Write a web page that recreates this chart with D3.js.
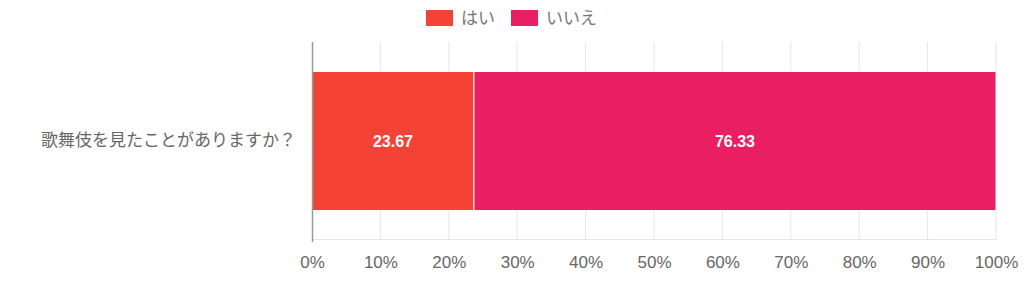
<html>
<head>
<meta charset="utf-8">
<style>
body
{
  margin:0;
  background:#fff;
}
</style>
<script src="https://cdnjs.cloudflare.com/ajax/libs/d3/7.8.5/d3.min.js"></script>
</head>
<body>
<script>
var categories = ["歌舞伎を見たことがありますか？"];
var seriesNames = ["はい", "いいえ"];
var seriesColors = ["#F44336", "#E91E63"];
var hai = [23.67];
var iie = [76.33];
var tickValues = [0, 10, 20, 30, 40, 50, 60, 70, 80, 90, 100];

var w = 1024, h = 286;
var font = "'Noto Sans CJK JP', 'Noto Sans', sans-serif";

var svg = d3.select("body")
  .append("svg")
  .attr("width", w)
  .attr("height", h);

var x = d3.scaleLinear().domain([0, 100]).range([312, 996]);
var y = d3.scaleBand().domain(categories).range([42, 240]).paddingInner(0).paddingOuter(0.212);

// grid
svg.append("g").selectAll("line")
  .data(tickValues.slice(1))
  .enter().append("line")
  .attr("x1", function(d){ return x(d); })
  .attr("x2", function(d){ return x(d); })
  .attr("y1", 42)
  .attr("y2", 240)
  .style("stroke", "#e6e6e6")
  .style("stroke-width", 1);

svg.append("line")
  .attr("x1", x(0)).attr("x2", x(100))
  .attr("y1", 239.5).attr("y2", 239.5)
  .style("stroke", "#e6e6e6");

// stacked bars
var stacked = categories.map(function(c, i){
  return [{s:0, x0:0, x1:hai[i], v:hai[i], c:c}, {s:1, x0:hai[i], x1:hai[i]+iie[i], v:iie[i], c:c}];
});
var segs = [].concat.apply([], stacked);

svg.append("g").selectAll("rect")
  .data(segs)
  .enter().append("rect")
  .attr("x", function(d){ return x(d.x0); })
  .attr("width", function(d){ return x(d.x1) - x(d.x0); })
  .attr("y", function(d){ return y(d.c); })
  .attr("height", y.bandwidth())
  .style("fill", function(d){ return seriesColors[d.s]; })
  .style("stroke", "#fff")
  .style("stroke-width", 1);

svg.append("g").selectAll("text")
  .data(segs)
  .enter().append("text")
  .attr("x", function(d){ return (x(d.x0) + x(d.x1)) / 2; })
  .attr("y", function(d){ return y(d.c) + y.bandwidth() / 2; })
  .attr("dy", "0.35em")
  .attr("text-anchor", "middle")
  .style("font-family", "Arial, 'Liberation Sans', sans-serif")
  .style("font-weight", "bold")
  .style("font-size", "16px")
  .style("fill", "#fff")
  .text(function(d){ return d.v.toFixed(2); });

// zero axis line
svg.append("line")
  .attr("x1", x(0) + 0.5).attr("x2", x(0) + 0.5)
  .attr("y1", 42).attr("y2", 242)
  .style("stroke", "#999")
  .style("stroke-width", 1.5);

// x axis labels
var xAxis = d3.axisBottom(x).tickValues(tickValues).tickSize(0).tickPadding(0)
  .tickFormat(function(d){ return d + "%"; });
var gx = svg.append("g").attr("transform", "translate(0,256)").call(xAxis);
gx.select(".domain").remove();
gx.selectAll("text")
  .attr("dy", "0.71em")
  .style("font-family", "'Liberation Sans', Arial, sans-serif")
  .style("font-size", "17px")
  .style("fill", "#666");

// category axis
var yAxis = d3.axisLeft(y).tickSize(0).tickPadding(16);
var gy = svg.append("g").attr("transform", "translate(" + x(0) + ",0)").call(yAxis);
gy.select(".domain").remove();
gy.selectAll("text")
  .style("font-family", font)
  .style("font-size", "17px")
  .style("fill", "#666");

// legend
var legendX = [426, 511];
var lg = svg.append("g").selectAll("g")
  .data(seriesNames)
  .enter().append("g")
  .attr("transform", function(d, i){ return "translate(" + legendX[i] + ",10)"; });
lg.append("rect")
  .attr("width", 27).attr("height", 16)
  .style("fill", function(d, i){ return seriesColors[i]; });
lg.append("text")
  .attr("x", 35).attr("y", 8).attr("dy", "0.35em")
  .style("font-family", font)
  .style("font-size", "17px")
  .style("fill", "#777")
  .text(function(d){ return d; });
</script>
</body>
</html>
